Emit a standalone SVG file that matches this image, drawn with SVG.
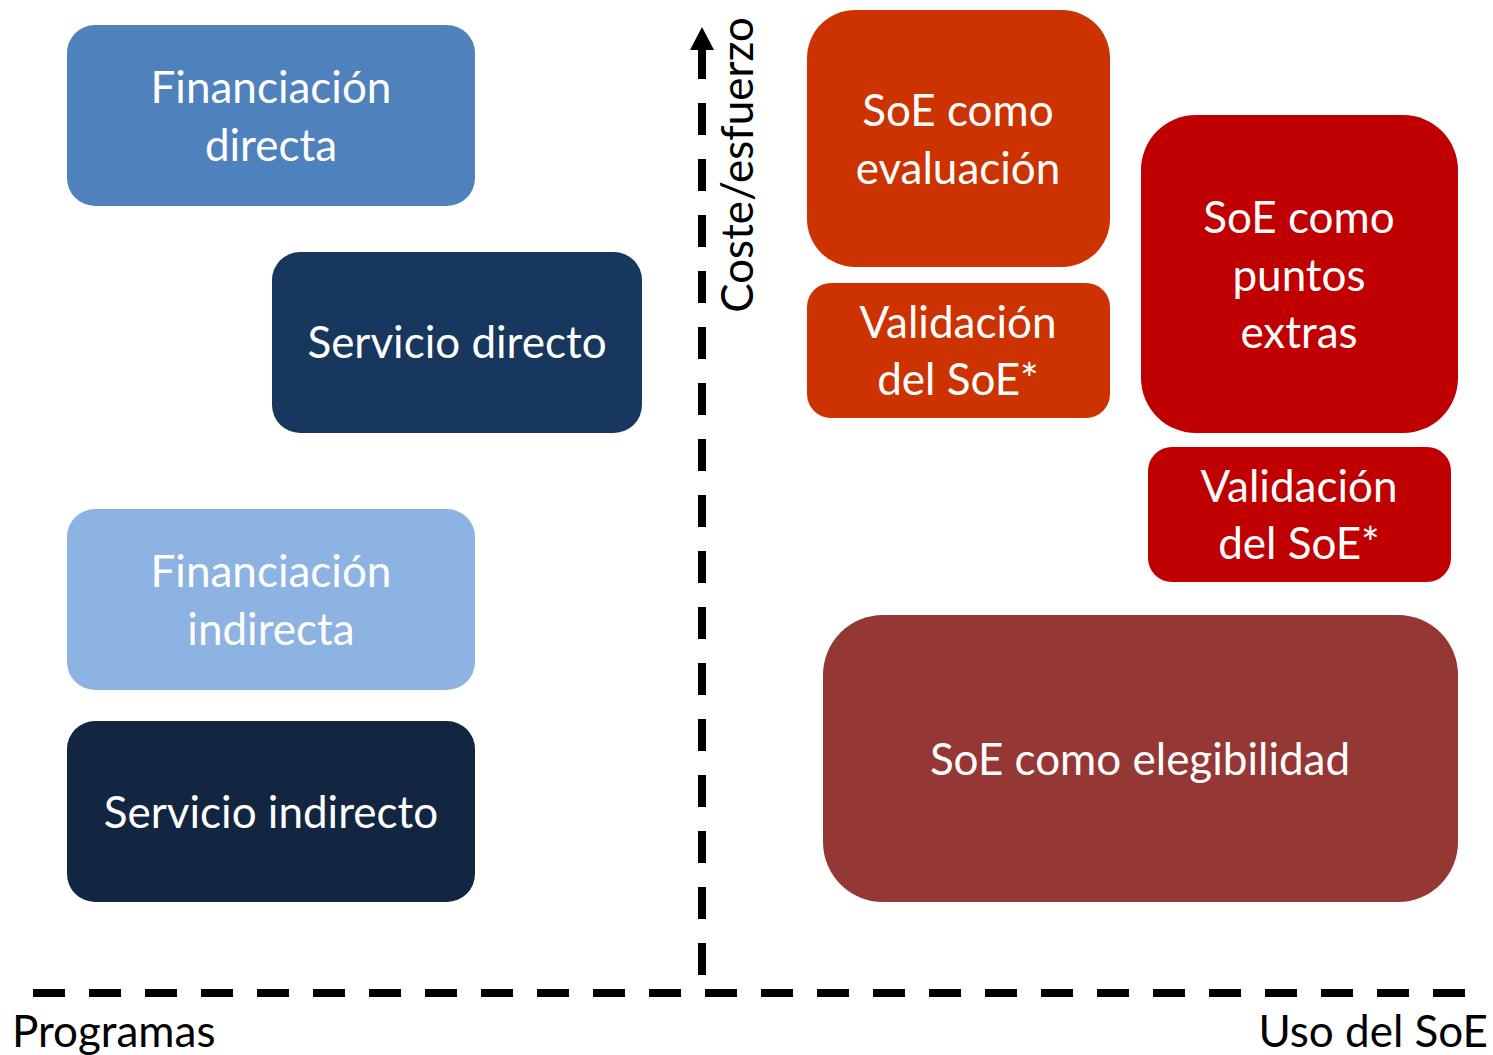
<svg xmlns="http://www.w3.org/2000/svg" width="1493" height="1055" viewBox="0 0 1493 1055">
<defs>
<style>
.lbl{font-family:Lato,"Open Sans","Liberation Sans",sans-serif;font-size:44px;fill:#ffffff;text-anchor:middle}
.axl{font-family:Lato,"Open Sans","Liberation Sans",sans-serif;font-size:44px;fill:#000000}
.axis{stroke:#000000;stroke-width:8;fill:none;stroke-dasharray:32 24}
</style>
</defs>
<rect width="1493" height="1055" fill="#ffffff"/>
<g id="connectors">
<line class="axis" x1="702" y1="975" x2="702" y2="47"/>
<polygon points="702,27 714,50 690,50" fill="#000000"/>
<line class="axis" x1="33" y1="993" x2="1465" y2="993"/>
</g>
<g id="n-fin-directa">
<rect x="67" y="25" width="408" height="181" rx="28" fill="#4F81BD"/>
<text class="lbl" x="271" y="103">Financiación</text>
<text class="lbl" x="271" y="161">directa</text>
</g>
<g id="n-serv-directo">
<rect x="272" y="252" width="370" height="181" rx="28" fill="#17375E"/>
<text class="lbl" x="457" y="358">Servicio directo</text>
</g>
<g id="n-fin-indirecta">
<rect x="67" y="509" width="408" height="181" rx="28" fill="#8DB3E2"/>
<text class="lbl" x="271" y="587">Financiación</text>
<text class="lbl" x="271" y="645">indirecta</text>
</g>
<g id="n-serv-indirecto">
<rect x="67" y="721" width="408" height="181" rx="28" fill="#122641"/>
<text class="lbl" x="271" y="828">Servicio indirecto</text>
</g>
<g id="n-soe-evaluacion">
<rect x="807" y="10" width="303" height="257" rx="48" fill="#CC3300"/>
<text class="lbl" x="958" y="126">SoE como</text>
<text class="lbl" x="958" y="184">evaluación</text>
</g>
<g id="n-validacion-1">
<rect x="807" y="283" width="303" height="135" rx="24" fill="#CC3300"/>
<text class="lbl" x="958" y="338">Validación</text>
<text class="lbl" x="958" y="395">del SoE*</text>
</g>
<g id="n-soe-puntos">
<rect x="1141" y="115" width="317" height="318" rx="55" fill="#C00000"/>
<text class="lbl" x="1299" y="233">SoE como</text>
<text class="lbl" x="1299" y="291">puntos</text>
<text class="lbl" x="1299" y="348">extras</text>
</g>
<g id="n-validacion-2">
<rect x="1148" y="447" width="303" height="135" rx="24" fill="#C00000"/>
<text class="lbl" x="1299" y="502">Validación</text>
<text class="lbl" x="1299" y="559">del SoE*</text>
</g>
<g id="n-soe-elegibilidad">
<rect x="823" y="615" width="635" height="287" rx="60" fill="#953735"/>
<text class="lbl" x="1140" y="775">SoE como elegibilidad</text>
</g>
<g id="axis-labels">
<text class="axl" x="12" y="1047">Programas</text>
<text class="axl" x="1488" y="1047" text-anchor="end">Uso del SoE</text>
<text class="axl" transform="translate(753,165) rotate(-90)" text-anchor="middle">Coste/esfuerzo</text>
</g>
</svg>
